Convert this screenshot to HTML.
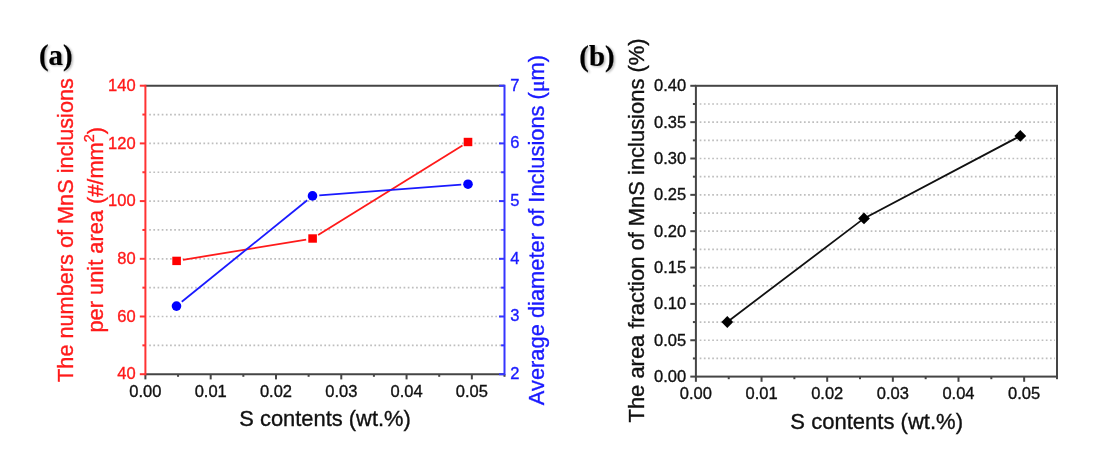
<!DOCTYPE html><html><head><meta charset="utf-8"><style>html,body{margin:0;padding:0;background:#fff;width:1097px;height:462px;overflow:hidden}svg{display:block;will-change:transform}text{font-family:"Liberation Sans",sans-serif}</style></head><body>
<svg width="1097" height="462" viewBox="0 0 1097 462">
<line x1="149.20" y1="345.35" x2="502.50" y2="345.35" stroke="#bebebe" stroke-width="1.7" stroke-dasharray="1.7 2.47"/>
<line x1="149.20" y1="316.50" x2="502.50" y2="316.50" stroke="#bebebe" stroke-width="1.7" stroke-dasharray="1.7 2.47"/>
<line x1="149.20" y1="287.65" x2="502.50" y2="287.65" stroke="#bebebe" stroke-width="1.7" stroke-dasharray="1.7 2.47"/>
<line x1="149.20" y1="258.80" x2="502.50" y2="258.80" stroke="#bebebe" stroke-width="1.7" stroke-dasharray="1.7 2.47"/>
<line x1="149.20" y1="229.95" x2="502.50" y2="229.95" stroke="#bebebe" stroke-width="1.7" stroke-dasharray="1.7 2.47"/>
<line x1="149.20" y1="201.10" x2="502.50" y2="201.10" stroke="#bebebe" stroke-width="1.7" stroke-dasharray="1.7 2.47"/>
<line x1="149.20" y1="172.25" x2="502.50" y2="172.25" stroke="#bebebe" stroke-width="1.7" stroke-dasharray="1.7 2.47"/>
<line x1="149.20" y1="143.40" x2="502.50" y2="143.40" stroke="#bebebe" stroke-width="1.7" stroke-dasharray="1.7 2.47"/>
<line x1="149.20" y1="114.55" x2="502.50" y2="114.55" stroke="#bebebe" stroke-width="1.7" stroke-dasharray="1.7 2.47"/>
<line x1="145.4" y1="85.7" x2="504.5" y2="85.7" stroke="#454545" stroke-width="2.0"/>
<line x1="145.4" y1="374.2" x2="504.5" y2="374.2" stroke="#454545" stroke-width="2.0"/>
<line x1="145.40" y1="374.2" x2="145.40" y2="379.40" stroke="#454545" stroke-width="2.0"/>
<line x1="178.05" y1="374.2" x2="178.05" y2="376.80" stroke="#454545" stroke-width="2.0"/>
<line x1="210.69" y1="374.2" x2="210.69" y2="379.40" stroke="#454545" stroke-width="2.0"/>
<line x1="243.34" y1="374.2" x2="243.34" y2="376.80" stroke="#454545" stroke-width="2.0"/>
<line x1="275.98" y1="374.2" x2="275.98" y2="379.40" stroke="#454545" stroke-width="2.0"/>
<line x1="308.62" y1="374.2" x2="308.62" y2="376.80" stroke="#454545" stroke-width="2.0"/>
<line x1="341.27" y1="374.2" x2="341.27" y2="379.40" stroke="#454545" stroke-width="2.0"/>
<line x1="373.92" y1="374.2" x2="373.92" y2="376.80" stroke="#454545" stroke-width="2.0"/>
<line x1="406.56" y1="374.2" x2="406.56" y2="379.40" stroke="#454545" stroke-width="2.0"/>
<line x1="439.21" y1="374.2" x2="439.21" y2="376.80" stroke="#454545" stroke-width="2.0"/>
<line x1="471.85" y1="374.2" x2="471.85" y2="379.40" stroke="#454545" stroke-width="2.0"/>
<line x1="504.50" y1="374.2" x2="504.50" y2="376.80" stroke="#454545" stroke-width="2.0"/>
<text x="145.40" y="397.2" font-size="16.5" fill="#111" stroke="#111" stroke-width="0.35" text-anchor="middle">0.00</text>
<text x="210.69" y="397.2" font-size="16.5" fill="#111" stroke="#111" stroke-width="0.35" text-anchor="middle">0.01</text>
<text x="275.98" y="397.2" font-size="16.5" fill="#111" stroke="#111" stroke-width="0.35" text-anchor="middle">0.02</text>
<text x="341.27" y="397.2" font-size="16.5" fill="#111" stroke="#111" stroke-width="0.35" text-anchor="middle">0.03</text>
<text x="406.56" y="397.2" font-size="16.5" fill="#111" stroke="#111" stroke-width="0.35" text-anchor="middle">0.04</text>
<text x="471.85" y="397.2" font-size="16.5" fill="#111" stroke="#111" stroke-width="0.35" text-anchor="middle">0.05</text>
<line x1="145.4" y1="84.7" x2="145.4" y2="375.2" stroke="#ff3333" stroke-width="2.0"/>
<line x1="139.80" y1="374.20" x2="145.4" y2="374.20" stroke="#ff3333" stroke-width="2.0"/>
<line x1="142.40" y1="345.35" x2="145.4" y2="345.35" stroke="#ff3333" stroke-width="2.0"/>
<line x1="139.80" y1="316.50" x2="145.4" y2="316.50" stroke="#ff3333" stroke-width="2.0"/>
<line x1="142.40" y1="287.65" x2="145.4" y2="287.65" stroke="#ff3333" stroke-width="2.0"/>
<line x1="139.80" y1="258.80" x2="145.4" y2="258.80" stroke="#ff3333" stroke-width="2.0"/>
<line x1="142.40" y1="229.95" x2="145.4" y2="229.95" stroke="#ff3333" stroke-width="2.0"/>
<line x1="139.80" y1="201.10" x2="145.4" y2="201.10" stroke="#ff3333" stroke-width="2.0"/>
<line x1="142.40" y1="172.25" x2="145.4" y2="172.25" stroke="#ff3333" stroke-width="2.0"/>
<line x1="139.80" y1="143.40" x2="145.4" y2="143.40" stroke="#ff3333" stroke-width="2.0"/>
<line x1="142.40" y1="114.55" x2="145.4" y2="114.55" stroke="#ff3333" stroke-width="2.0"/>
<line x1="139.80" y1="85.70" x2="145.4" y2="85.70" stroke="#ff3333" stroke-width="2.0"/>
<text x="135.6" y="379.30" font-size="16.5" fill="#ff1a1a" stroke="#ff1a1a" stroke-width="0.35" text-anchor="end">40</text>
<text x="135.6" y="321.60" font-size="16.5" fill="#ff1a1a" stroke="#ff1a1a" stroke-width="0.35" text-anchor="end">60</text>
<text x="135.6" y="263.90" font-size="16.5" fill="#ff1a1a" stroke="#ff1a1a" stroke-width="0.35" text-anchor="end">80</text>
<text x="135.6" y="206.20" font-size="16.5" fill="#ff1a1a" stroke="#ff1a1a" stroke-width="0.35" text-anchor="end">100</text>
<text x="135.6" y="148.50" font-size="16.5" fill="#ff1a1a" stroke="#ff1a1a" stroke-width="0.35" text-anchor="end">120</text>
<text x="135.6" y="90.80" font-size="16.5" fill="#ff1a1a" stroke="#ff1a1a" stroke-width="0.35" text-anchor="end">140</text>
<line x1="504.5" y1="84.7" x2="504.5" y2="375.2" stroke="#3535ff" stroke-width="2.0"/>
<line x1="499.00" y1="374.20" x2="504.5" y2="374.20" stroke="#3535ff" stroke-width="2.0"/>
<line x1="501.10" y1="345.35" x2="504.5" y2="345.35" stroke="#3535ff" stroke-width="2.0"/>
<line x1="499.00" y1="316.50" x2="504.5" y2="316.50" stroke="#3535ff" stroke-width="2.0"/>
<line x1="501.10" y1="287.65" x2="504.5" y2="287.65" stroke="#3535ff" stroke-width="2.0"/>
<line x1="499.00" y1="258.80" x2="504.5" y2="258.80" stroke="#3535ff" stroke-width="2.0"/>
<line x1="501.10" y1="229.95" x2="504.5" y2="229.95" stroke="#3535ff" stroke-width="2.0"/>
<line x1="499.00" y1="201.10" x2="504.5" y2="201.10" stroke="#3535ff" stroke-width="2.0"/>
<line x1="501.10" y1="172.25" x2="504.5" y2="172.25" stroke="#3535ff" stroke-width="2.0"/>
<line x1="499.00" y1="143.40" x2="504.5" y2="143.40" stroke="#3535ff" stroke-width="2.0"/>
<line x1="501.10" y1="114.55" x2="504.5" y2="114.55" stroke="#3535ff" stroke-width="2.0"/>
<line x1="499.00" y1="85.70" x2="504.5" y2="85.70" stroke="#3535ff" stroke-width="2.0"/>
<text x="510.3" y="379.00" font-size="16.5" fill="#1a1aff" stroke="#1a1aff" stroke-width="0.35">2</text>
<text x="510.3" y="321.30" font-size="16.5" fill="#1a1aff" stroke="#1a1aff" stroke-width="0.35">3</text>
<text x="510.3" y="263.60" font-size="16.5" fill="#1a1aff" stroke="#1a1aff" stroke-width="0.35">4</text>
<text x="510.3" y="205.90" font-size="16.5" fill="#1a1aff" stroke="#1a1aff" stroke-width="0.35">5</text>
<text x="510.3" y="148.20" font-size="16.5" fill="#1a1aff" stroke="#1a1aff" stroke-width="0.35">6</text>
<text x="510.3" y="90.50" font-size="16.5" fill="#1a1aff" stroke="#1a1aff" stroke-width="0.35">7</text>
<line x1="183.01" y1="259.84" x2="306.19" y2="239.56" stroke="#ff1a1a" stroke-width="1.8"/>
<line x1="318.12" y1="235.07" x2="462.48" y2="145.43" stroke="#ff1a1a" stroke-width="1.8"/>
<line x1="181.78" y1="301.82" x2="307.22" y2="200.18" stroke="#1a1aff" stroke-width="1.8"/>
<line x1="319.28" y1="195.39" x2="461.22" y2="184.71" stroke="#1a1aff" stroke-width="1.8"/>
<rect x="172.30" y="256.70" width="8.6" height="8.4" fill="#ff0000"/>
<rect x="308.30" y="234.30" width="8.6" height="8.4" fill="#ff0000"/>
<rect x="463.70" y="137.80" width="8.6" height="8.4" fill="#ff0000"/>
<circle cx="176.5" cy="306.1" r="4.8" fill="#0000ff"/>
<circle cx="312.5" cy="195.9" r="4.8" fill="#0000ff"/>
<circle cx="468" cy="184.2" r="4.8" fill="#0000ff"/>
<text transform="translate(73.4,381.9) rotate(-90)" font-size="21.7" fill="#ff1a1a" stroke="#ff1a1a" stroke-width="0.35">The numbers of MnS inclusions</text>
<text transform="translate(103.2,332.5) rotate(-90)" font-size="21.8" fill="#ff1a1a" stroke="#ff1a1a" stroke-width="0.35">per unit area (#/mm<tspan font-size="14.5" dy="-8.9">2</tspan><tspan dy="8.9">)</tspan></text>
<text transform="translate(543.6,405.2) rotate(-90)" font-size="21.86" fill="#1a1aff" stroke="#1a1aff" stroke-width="0.35">Average diameter of Inclusions (<tspan font-family="Liberation Serif">&#956;</tspan>m)</text>
<text x="239.3" y="425.8" font-size="21.9" fill="#111" stroke="#111" stroke-width="0.35">S contents (wt.%)</text>
<defs><filter id="sh" x="-20%" y="-20%" width="140%" height="140%"><feGaussianBlur stdDeviation="0.9"/></filter></defs>
<text x="40.5" y="66.4" font-size="28.8" font-weight="bold" fill="#777" opacity="0.55" filter="url(#sh)" style="font-family:'Liberation Serif',serif">(a)</text>
<text x="38.9" y="65.2" font-size="28.8" font-weight="bold" fill="#000" stroke="#000" stroke-width="0.2" style="font-family:'Liberation Serif',serif">(a)</text>
<text x="580.9" y="66.8" font-size="28.8" font-weight="bold" fill="#777" opacity="0.55" filter="url(#sh)" style="font-family:'Liberation Serif',serif">(b)</text>
<text x="579.3" y="65.6" font-size="28.8" font-weight="bold" fill="#000" stroke="#000" stroke-width="0.2" style="font-family:'Liberation Serif',serif">(b)</text>
<line x1="699.70" y1="358.43" x2="1055.00" y2="358.43" stroke="#bebebe" stroke-width="1.7" stroke-dasharray="1.7 2.47"/>
<line x1="699.70" y1="340.25" x2="1055.00" y2="340.25" stroke="#bebebe" stroke-width="1.7" stroke-dasharray="1.7 2.47"/>
<line x1="699.70" y1="322.07" x2="1055.00" y2="322.07" stroke="#bebebe" stroke-width="1.7" stroke-dasharray="1.7 2.47"/>
<line x1="699.70" y1="303.90" x2="1055.00" y2="303.90" stroke="#bebebe" stroke-width="1.7" stroke-dasharray="1.7 2.47"/>
<line x1="699.70" y1="285.73" x2="1055.00" y2="285.73" stroke="#bebebe" stroke-width="1.7" stroke-dasharray="1.7 2.47"/>
<line x1="699.70" y1="267.55" x2="1055.00" y2="267.55" stroke="#bebebe" stroke-width="1.7" stroke-dasharray="1.7 2.47"/>
<line x1="699.70" y1="249.38" x2="1055.00" y2="249.38" stroke="#bebebe" stroke-width="1.7" stroke-dasharray="1.7 2.47"/>
<line x1="699.70" y1="231.20" x2="1055.00" y2="231.20" stroke="#bebebe" stroke-width="1.7" stroke-dasharray="1.7 2.47"/>
<line x1="699.70" y1="213.03" x2="1055.00" y2="213.03" stroke="#bebebe" stroke-width="1.7" stroke-dasharray="1.7 2.47"/>
<line x1="699.70" y1="194.85" x2="1055.00" y2="194.85" stroke="#bebebe" stroke-width="1.7" stroke-dasharray="1.7 2.47"/>
<line x1="699.70" y1="176.68" x2="1055.00" y2="176.68" stroke="#bebebe" stroke-width="1.7" stroke-dasharray="1.7 2.47"/>
<line x1="699.70" y1="158.50" x2="1055.00" y2="158.50" stroke="#bebebe" stroke-width="1.7" stroke-dasharray="1.7 2.47"/>
<line x1="699.70" y1="140.33" x2="1055.00" y2="140.33" stroke="#bebebe" stroke-width="1.7" stroke-dasharray="1.7 2.47"/>
<line x1="699.70" y1="122.15" x2="1055.00" y2="122.15" stroke="#bebebe" stroke-width="1.7" stroke-dasharray="1.7 2.47"/>
<line x1="699.70" y1="103.98" x2="1055.00" y2="103.98" stroke="#bebebe" stroke-width="1.7" stroke-dasharray="1.7 2.47"/>
<rect x="695.9" y="85.8" width="361.10" height="290.80" fill="none" stroke="#454545" stroke-width="2.0"/>
<line x1="695.90" y1="376.6" x2="695.90" y2="381.80" stroke="#454545" stroke-width="2.0"/>
<line x1="728.73" y1="376.6" x2="728.73" y2="379.20" stroke="#454545" stroke-width="2.0"/>
<line x1="761.55" y1="376.6" x2="761.55" y2="381.80" stroke="#454545" stroke-width="2.0"/>
<line x1="794.38" y1="376.6" x2="794.38" y2="379.20" stroke="#454545" stroke-width="2.0"/>
<line x1="827.20" y1="376.6" x2="827.20" y2="381.80" stroke="#454545" stroke-width="2.0"/>
<line x1="860.02" y1="376.6" x2="860.02" y2="379.20" stroke="#454545" stroke-width="2.0"/>
<line x1="892.85" y1="376.6" x2="892.85" y2="381.80" stroke="#454545" stroke-width="2.0"/>
<line x1="925.67" y1="376.6" x2="925.67" y2="379.20" stroke="#454545" stroke-width="2.0"/>
<line x1="958.50" y1="376.6" x2="958.50" y2="381.80" stroke="#454545" stroke-width="2.0"/>
<line x1="991.33" y1="376.6" x2="991.33" y2="379.20" stroke="#454545" stroke-width="2.0"/>
<line x1="1024.15" y1="376.6" x2="1024.15" y2="381.80" stroke="#454545" stroke-width="2.0"/>
<line x1="1056.97" y1="376.6" x2="1056.97" y2="379.20" stroke="#454545" stroke-width="2.0"/>
<text x="695.90" y="399.3" font-size="16.5" fill="#111" stroke="#111" stroke-width="0.35" text-anchor="middle">0.00</text>
<text x="761.55" y="399.3" font-size="16.5" fill="#111" stroke="#111" stroke-width="0.35" text-anchor="middle">0.01</text>
<text x="827.20" y="399.3" font-size="16.5" fill="#111" stroke="#111" stroke-width="0.35" text-anchor="middle">0.02</text>
<text x="892.85" y="399.3" font-size="16.5" fill="#111" stroke="#111" stroke-width="0.35" text-anchor="middle">0.03</text>
<text x="958.50" y="399.3" font-size="16.5" fill="#111" stroke="#111" stroke-width="0.35" text-anchor="middle">0.04</text>
<text x="1024.15" y="399.3" font-size="16.5" fill="#111" stroke="#111" stroke-width="0.35" text-anchor="middle">0.05</text>
<line x1="690.30" y1="376.60" x2="695.9" y2="376.60" stroke="#454545" stroke-width="2.0"/>
<line x1="692.90" y1="358.43" x2="695.9" y2="358.43" stroke="#454545" stroke-width="2.0"/>
<line x1="690.30" y1="340.25" x2="695.9" y2="340.25" stroke="#454545" stroke-width="2.0"/>
<line x1="692.90" y1="322.07" x2="695.9" y2="322.07" stroke="#454545" stroke-width="2.0"/>
<line x1="690.30" y1="303.90" x2="695.9" y2="303.90" stroke="#454545" stroke-width="2.0"/>
<line x1="692.90" y1="285.73" x2="695.9" y2="285.73" stroke="#454545" stroke-width="2.0"/>
<line x1="690.30" y1="267.55" x2="695.9" y2="267.55" stroke="#454545" stroke-width="2.0"/>
<line x1="692.90" y1="249.38" x2="695.9" y2="249.38" stroke="#454545" stroke-width="2.0"/>
<line x1="690.30" y1="231.20" x2="695.9" y2="231.20" stroke="#454545" stroke-width="2.0"/>
<line x1="692.90" y1="213.03" x2="695.9" y2="213.03" stroke="#454545" stroke-width="2.0"/>
<line x1="690.30" y1="194.85" x2="695.9" y2="194.85" stroke="#454545" stroke-width="2.0"/>
<line x1="692.90" y1="176.68" x2="695.9" y2="176.68" stroke="#454545" stroke-width="2.0"/>
<line x1="690.30" y1="158.50" x2="695.9" y2="158.50" stroke="#454545" stroke-width="2.0"/>
<line x1="692.90" y1="140.33" x2="695.9" y2="140.33" stroke="#454545" stroke-width="2.0"/>
<line x1="690.30" y1="122.15" x2="695.9" y2="122.15" stroke="#454545" stroke-width="2.0"/>
<line x1="692.90" y1="103.98" x2="695.9" y2="103.98" stroke="#454545" stroke-width="2.0"/>
<line x1="690.30" y1="85.80" x2="695.9" y2="85.80" stroke="#454545" stroke-width="2.0"/>
<text x="686.2" y="382.00" font-size="16.5" fill="#111" stroke="#111" stroke-width="0.35" text-anchor="end">0.00</text>
<text x="686.2" y="345.65" font-size="16.5" fill="#111" stroke="#111" stroke-width="0.35" text-anchor="end">0.05</text>
<text x="686.2" y="309.30" font-size="16.5" fill="#111" stroke="#111" stroke-width="0.35" text-anchor="end">0.10</text>
<text x="686.2" y="272.95" font-size="16.5" fill="#111" stroke="#111" stroke-width="0.35" text-anchor="end">0.15</text>
<text x="686.2" y="236.60" font-size="16.5" fill="#111" stroke="#111" stroke-width="0.35" text-anchor="end">0.20</text>
<text x="686.2" y="200.25" font-size="16.5" fill="#111" stroke="#111" stroke-width="0.35" text-anchor="end">0.25</text>
<text x="686.2" y="163.90" font-size="16.5" fill="#111" stroke="#111" stroke-width="0.35" text-anchor="end">0.30</text>
<text x="686.2" y="127.55" font-size="16.5" fill="#111" stroke="#111" stroke-width="0.35" text-anchor="end">0.35</text>
<text x="686.2" y="91.20" font-size="16.5" fill="#111" stroke="#111" stroke-width="0.35" text-anchor="end">0.40</text>
<polyline points="727.3,322.0 864,218.4 1020.3,135.9" fill="none" stroke="#111" stroke-width="1.8"/>
<path d="M721.4,322.0 L727.3,316.1 L733.1999999999999,322.0 L727.3,327.9 Z" fill="#000"/>
<path d="M858.1,218.4 L864,212.5 L869.9,218.4 L864,224.3 Z" fill="#000"/>
<path d="M1014.4,135.9 L1020.3,130.0 L1026.2,135.9 L1020.3,141.8 Z" fill="#000"/>
<text transform="translate(644,422.5) rotate(-90)" font-size="21.95" fill="#111" stroke="#111" stroke-width="0.35">The area fraction of MnS inclusions (%)</text>
<text x="790.3" y="428.8" font-size="22.05" fill="#111" stroke="#111" stroke-width="0.35">S contents (wt.%)</text>
</svg></body></html>
